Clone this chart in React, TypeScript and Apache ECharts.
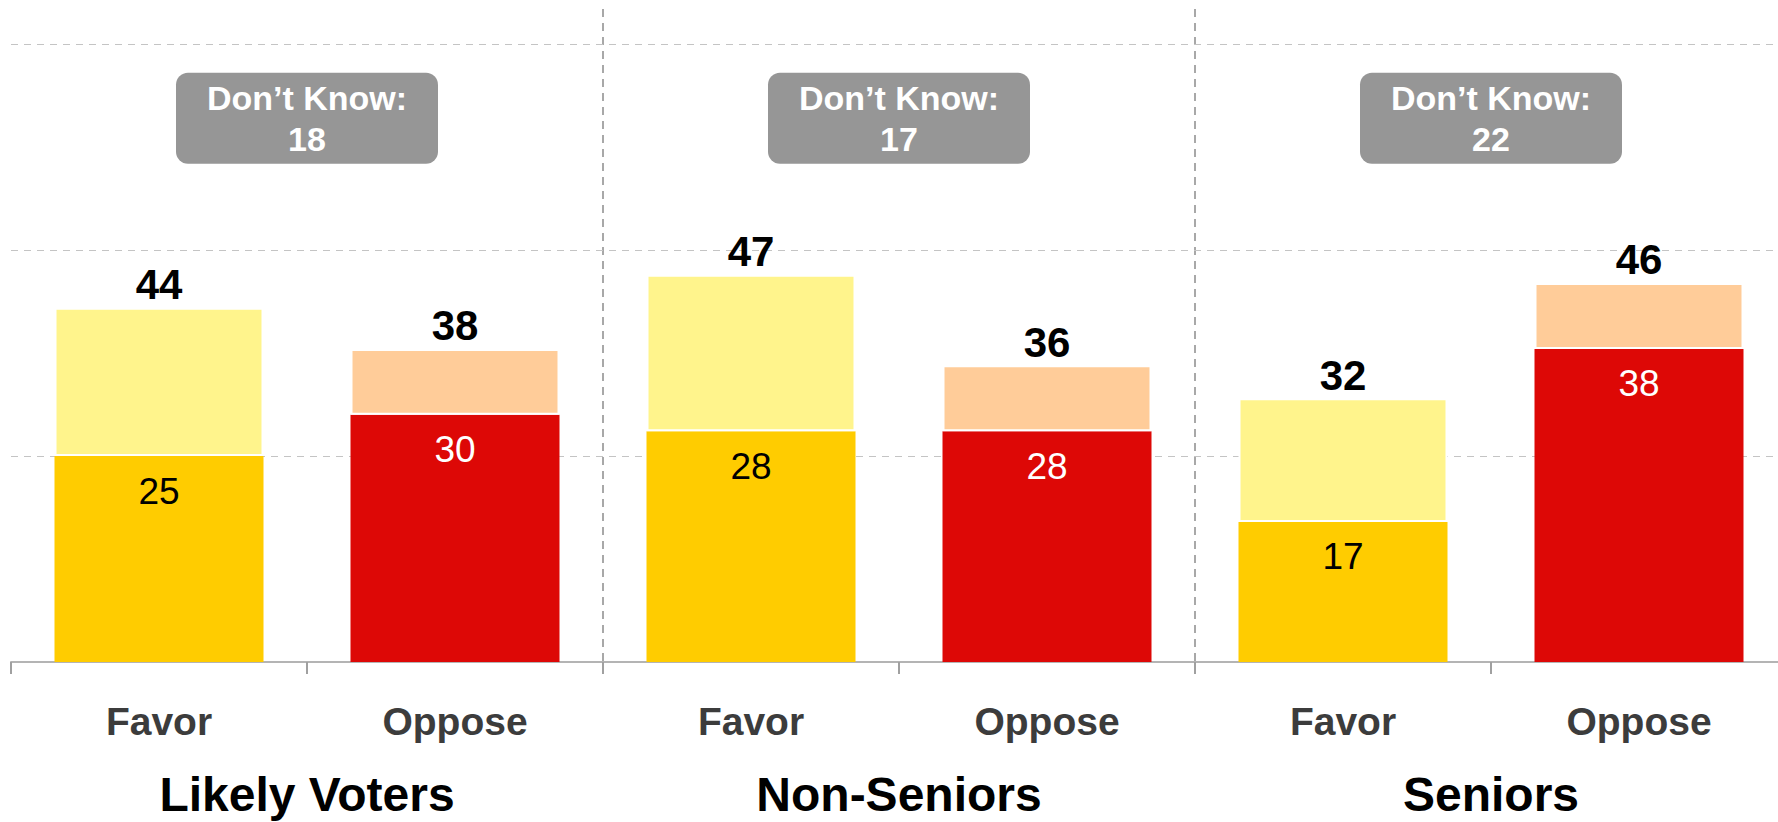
import React, { useEffect, useRef } from "react";
import * as echarts from "echarts";

const categories = ["Favor", "Oppose", "Favor", "Oppose", "Favor", "Oppose"];
const groups = ["Likely Voters", "Non-Seniors", "Seniors"];
const strongValues = [25, 30, 28, 28, 17, 38];
const softValues = [18, 8, 19, 8, 15, 8];
const totals = [44, 38, 47, 36, 32, 46];
const dontKnow = [18, 17, 22];
const gridValues = [25, 50, 75];

const FONT = "'Liberation Sans', Arial, sans-serif";
const strongColors = ["#FFCC00", "#DD0806", "#FFCC00", "#DD0806", "#FFCC00", "#DD0806"];
const softColors = ["#FFF48C", "#FFCC99", "#FFF48C", "#FFCC99", "#FFF48C", "#FFCC99"];
const strongLabelColors = ["#000", "#fff", "#000", "#fff", "#000", "#fff"];

export default function App() {
  const ref = useRef<HTMLDivElement>(null);
  useEffect(() => {
    if (!ref.current) return;
    const chart = echarts.init(ref.current, null, { renderer: "svg" });
    chart.setOption({
      animation: false,
      backgroundColor: "#ffffff",
      grid: { left: 11, top: 9, width: 1776, height: 657 },
      xAxis: [
        {
          type: "category",
          data: categories,
          axisLine: { show: true, lineStyle: { color: "#b4b4b4", width: 2 } },
          axisTick: { show: true, length: 12, lineStyle: { color: "#a0a0a0", width: 2 } },
          axisLabel: {
            margin: 36,
            fontFamily: FONT,
            fontSize: 39,
            fontWeight: "bold",
            color: "#3c3c3c",
            lineHeight: 46,
          },
          splitLine: { show: false },
        },
        {
          type: "category",
          data: groups,
          position: "bottom",
          axisLine: { show: false },
          axisTick: { show: false },
          axisLabel: {
            margin: 104,
            fontFamily: FONT,
            fontSize: 48,
            fontWeight: "bold",
            color: "#000",
            lineHeight: 56,
          },
          splitLine: {
            show: true,
            interval: (i: number) => i > 0,
            lineStyle: { color: "#8c8c8c", width: 1.5, type: [8, 6] },
          },
        },
      ],
      yAxis: {
        type: "value",
        min: 0,
        max: 79.25,
        interval: 25,
        axisLine: { show: false },
        axisTick: { show: false },
        axisLabel: { show: false },
        splitLine: { show: false },
      },
      series: [
        {
          type: "bar",
          stack: "total",
          barWidth: 209,
          xAxisIndex: 0,
          z: 2,
          data: strongValues.map((v, i) => ({
            value: v,
            itemStyle: { color: strongColors[i] },
            label: { color: strongLabelColors[i] },
          })),
          label: {
            show: true,
            position: "insideTop",
            distance: 15,
            fontFamily: FONT,
            fontSize: 37,
            lineHeight: 40,
          },
          markLine: {
            z: 1,
            silent: true,
            symbol: "none",
            label: { show: false },
            lineStyle: { color: "#c4c4c4", width: 1, type: [7, 6] },
            data: gridValues.map((v) => ({ yAxis: v })),
          },
        },
        {
          type: "bar",
          stack: "total",
          barWidth: 209,
          xAxisIndex: 0,
          z: 2,
          data: softValues.map((v, i) => ({
            value: v,
            itemStyle: { color: softColors[i], borderColor: "#ffffff", borderWidth: 2 },
          })),
          label: {
            show: true,
            position: "top",
            distance: 0,
            fontFamily: FONT,
            fontSize: 42,
            fontWeight: "bold",
            color: "#000",
            lineHeight: 46,
            formatter: (p: any) => String(totals[p.dataIndex]),
          },
        },
        {
          type: "scatter",
          xAxisIndex: 1,
          symbol: "rect",
          symbolSize: 1,
          itemStyle: { color: "rgba(0,0,0,0)", opacity: 1 },
          z: 3,
          data: dontKnow.map((v, i) => [groups[i], 66]),
          label: {
            show: true,
            position: "inside",
            opacity: 1,
            formatter: (p: any) => "Don\u2019t Know:\n" + dontKnow[p.dataIndex],
            backgroundColor: "#969696",
            borderRadius: 12,
            width: 262,
            height: 82,
            padding: [4, 0, 5, 0],
            align: "center",
            verticalAlign: "middle",
            fontFamily: FONT,
            fontSize: 34,
            fontWeight: "bold",
            lineHeight: 41,
            color: "#ffffff",
          },
        },
      ],
    });
    return () => chart.dispose();
  }, []);
  return (
    <div
      ref={ref}
      style={{ position: "fixed", left: 0, top: 0, width: 1790, height: 822 }}
    />
  );
}
